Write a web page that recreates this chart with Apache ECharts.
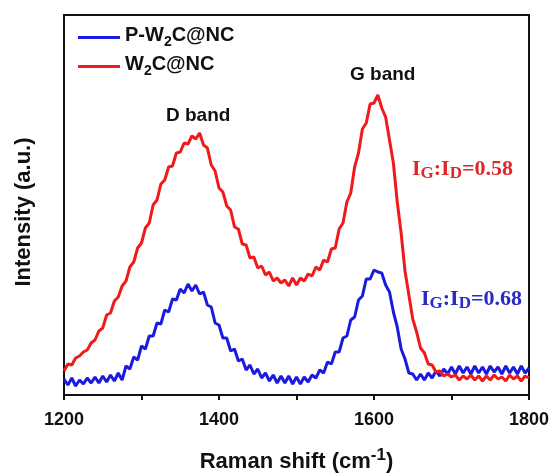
<!DOCTYPE html>
<html>
<head>
<meta charset="utf-8">
<script src="https://cdn.jsdelivr.net/npm/echarts@6/dist/echarts.min.js"></script>
<style>
html,body{margin:0;padding:0;background:#fff;}
#chart{width:550px;height:474px;}
</style>
</head>
<body>
<div id="chart"></div>
<script>
// Raman shift (cm^-1)
const ramanShift = [
  1200,1205,1210,1215,1220,1225,1230,1235,1240,1245,
  1250,1255,1260,1265,1270,1275,1280,1285,1290,1295,
  1300,1305,1310,1315,1320,1325,1330,1335,1340,1345,
  1350,1355,1360,1365,1370,1375,1380,1385,1390,1395,
  1400,1405,1410,1415,1420,1425,1430,1435,1440,1445,
  1450,1455,1460,1465,1470,1475,1480,1485,1490,1495,
  1500,1505,1510,1515,1520,1525,1530,1535,1540,1545,
  1550,1555,1560,1565,1570,1575,1580,1585,1590,1595,
  1600,1605,1610,1615,1620,1625,1630,1635,1640,1645,
  1650,1655,1660,1665,1670,1675,1680,1685,1690,1695,
  1700,1705,1710,1715,1720,1725,1730,1735,1740,1745,
  1750,1755,1760,1765,1770,1775,1780,1785,1790,1795,
  1800
];
// P-W2C@NC intensity (a.u.)
const pW2CNC = [
  16,10,17,9,15,11,17,12,18,12,
  19,13,20,14,22,15,29,26,38,35,
  49,46,59,59,72,71,85,83,96,95,
  106,102,111,104,110,101,103,90,88,72,
  70,57,57,44,46,34,36,25,30,21,
  26,17,22,14,20,12,19,12,19,11,
  18,11,18,13,20,17,25,22,33,31,
  43,43,57,59,75,78,95,99,116,116,
  125,123,122,110,103,83,68,46,36,22,
  21,15,21,15,22,17,24,19,26,21,
  28,21,29,22,28,21,29,22,28,21,
  29,23,28,21,29,22,28,21,29,22,
  27
];
// W2C@NC intensity (a.u.)
const w2cNC = [
  24,31,30,37,39,43,45,52,55,64,
  67,80,82,94,98,109,114,128,133,147,
  152,167,172,190,195,211,215,228,229,242,
  243,252,251,259,256,262,250,247,230,224,
  207,203,189,185,168,166,151,150,137,138,
  127,129,120,123,114,117,112,115,109,117,
  110,117,114,121,119,128,125,135,133,146,
  147,166,172,193,202,228,242,266,272,291,
  292,300,287,278,255,232,193,162,124,100,
  76,63,47,42,31,30,23,24,19,21,
  18,20,15,19,16,20,15,19,14,19,
  15,20,16,18,14,20,16,19,14,19,
  17
];
const xTickLabels = ['1200','1400','1600','1800'];
const seriesNames = ['P-W2C@NC','W2C@NC'];
const ratioLabels = ['0.58','0.68'];

const BLUE = '#1a1ae0';
const RED = '#f01a1a';
const FONT = '"Liberation Sans", Arial, sans-serif';
const SERIF = '"Liberation Serif", "Times New Roman", serif';

const chart = echarts.init(document.getElementById('chart'), null, {renderer:'canvas'});

function pairs(xs, ys){ return xs.map((x,i)=>[x, ys[i]]); }

const legendRich = {
  n: {fontSize: 20, fontWeight: 'bold', fontFamily: FONT, color: '#111', lineHeight: 25, verticalAlign: 'top'},
  s: {fontSize: 14, fontWeight: 'bold', fontFamily: FONT, color: '#111', lineHeight: 20, padding: [10, 0, 0, 0], verticalAlign: 'top'}
};

function ratioText(val, color){
  return {
    text: '{n|I}{s|G}{n|:I}{s|D}{n|=' + val + '}',
    rich: {
      n: {fontSize: 22, fontWeight: 'bold', fontFamily: SERIF, fill: color, lineHeight: 20, verticalAlign: 'top'},
      s: {fontSize: 17, fontWeight: 'bold', fontFamily: SERIF, fill: color, lineHeight: 31}
    }
  };
}

chart.setOption({
  animation: false,
  backgroundColor: '#fff',
  grid: {left: 64, right: 21, top: 15, bottom: 79, show: true, borderColor: '#111', borderWidth: 2,
         backgroundColor: 'transparent', outerBoundsMode: 'none', containLabel: false},
  legend: {
    orient: 'vertical',
    left: 73, top: 20,
    itemWidth: 42, itemHeight: 3, itemGap: 5,
    icon: 'rect',
    data: seriesNames,
    formatter: function(name){
      return name === 'P-W2C@NC' ? '{n|P-W}{s|2}{n|C@NC}' : '{n|W}{s|2}{n|C@NC}';
    },
    textStyle: {rich: legendRich}
  },
  xAxis: {
    type: 'value', min: 1200, max: 1800, interval: 100,
    name: '{n|Raman shift (cm}{sup|-1}{n|)}',
    nameLocation: 'middle', nameGap: 52,
    nameTextStyle: {
      rich: {
        n: {fontSize: 22, fontWeight: 'bold', fontFamily: FONT, color: '#111', lineHeight: 26, verticalAlign: 'bottom'},
        sup: {fontSize: 17, fontWeight: 'bold', fontFamily: FONT, color: '#111', lineHeight: 14, padding: [0, 0, 20, 0], verticalAlign: 'top'}
      }
    },
    axisLine: {show: true, lineStyle: {color: '#111', width: 2}},
    axisTick: {show: true, length: 5, lineStyle: {color: '#111', width: 2}},
    axisLabel: {
      fontSize: 18, fontWeight: 'bold', fontFamily: FONT, color: '#111', margin: 16,
      formatter: function(v){ const s = String(v); return xTickLabels.indexOf(s) >= 0 ? s : ''; }
    },
    splitLine: {show: false}
  },
  yAxis: {
    type: 'value', min: 0, max: 380,
    name: 'Intensity (a.u.)',
    nameLocation: 'middle', nameGap: 29,
    nameTextStyle: {fontSize: 22, fontWeight: 'bold', fontFamily: FONT, color: '#111', padding: [0, 14, 0, 0]},
    axisLine: {show: true, lineStyle: {color: '#111', width: 2}},
    axisTick: {show: false},
    axisLabel: {show: false},
    splitLine: {show: false}
  },
  graphic: [
    {type: 'text', left: 166, top: 106, style: {text: 'D band', font: 'bold 19px ' + FONT, fill: '#111'}},
    {type: 'text', left: 350, top: 65, style: {text: 'G band', font: 'bold 19px ' + FONT, fill: '#111'}},
    {type: 'text', left: 412, top: 158, style: ratioText(ratioLabels[0], '#e02828')},
    {type: 'text', left: 421, top: 288, style: ratioText(ratioLabels[1], '#2a2ac4')}
  ],
  series: [
    {name: seriesNames[0], type: 'line', data: pairs(ramanShift, pW2CNC), showSymbol: false, symbol: 'none',
     lineStyle: {color: BLUE, width: 3}, itemStyle: {color: BLUE}},
    {name: seriesNames[1], type: 'line', data: pairs(ramanShift, w2cNC), showSymbol: false, symbol: 'none',
     lineStyle: {color: RED, width: 3}, itemStyle: {color: RED}}
  ]
});
</script>
</body>
</html>
